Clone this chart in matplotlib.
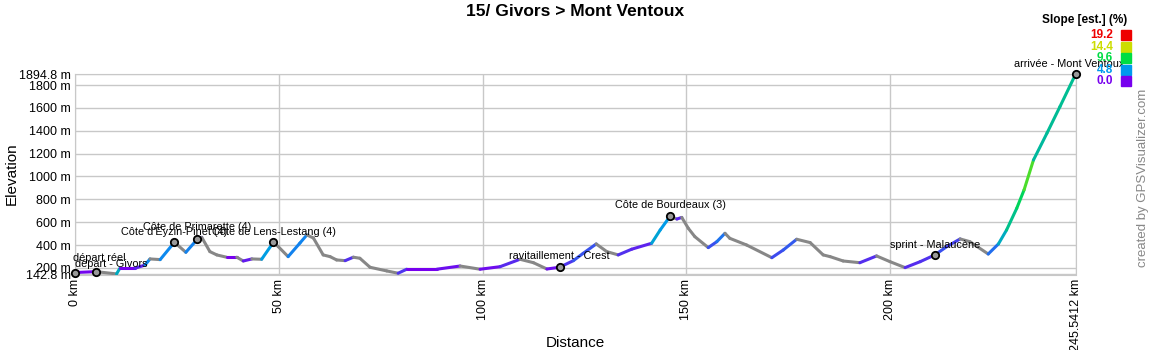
import numpy as np
import matplotlib
matplotlib.use('Agg')
import matplotlib.pyplot as plt
from matplotlib.collections import LineCollection
from matplotlib.colors import LinearSegmentedColormap

plt.rcParams['font.family'] = ['Liberation Sans', 'DejaVu Sans']

# profile: distance (km), elevation (m)
dist = [0, 5.1, 10.2, 11.0, 14.7, 17.2, 18.4, 20.9, 24.4, 27.2, 30.0, 31.1, 33.1, 34.8,
        37.2, 39.7, 41.3, 43.4, 45.8, 48.7, 49.9, 52.3, 55.2, 56.9, 58.5, 60.9, 62.6,
        64.2, 66.3, 68.3, 69.9, 72.4, 76.5, 79.3, 81.4, 84.7, 88.8, 94.5, 99.4, 104.3,
        109.2, 112.5, 115.8, 118.9, 122.3, 124.7, 127.9, 130.5, 133.3, 136.6, 141.5,
        143.6, 146.0, 147.7, 148.9, 150.5, 152.1, 155.4, 157.5, 159.5, 160.7, 164.8,
        171.0, 173.8, 177.1, 180.4, 183.6, 185.3, 188.5, 192.6, 196.7, 200.0, 203.7,
        207.4, 211.0, 213.9, 217.2, 219.6, 224.1, 226.6, 228.6, 231.1, 232.9, 235.2,
        238.5, 241.7, 245.5412]
elev = [160, 168, 148, 197, 197, 226, 279, 273, 425, 337, 451, 468, 343, 314,
        294, 294, 261, 279, 276, 425, 386, 299, 418, 489, 462, 314, 299,
        270, 264, 294, 285, 206, 174, 154, 189, 189, 189, 217, 189, 211,
        276, 246, 191, 206, 264, 328, 410, 343, 314, 364, 416,
        532, 651, 628, 642, 547, 474, 378, 430, 503, 459, 401,
        290, 357, 451, 422, 314, 299, 261, 246, 305, 255, 203,
        255, 314, 386, 454, 430, 322, 410, 532, 722, 883, 1144,
        1378, 1611, 1894.8]

# waypoints
wp_names = ["départ - Givors", "départ réel", "Côte d'Eyzin-Pinet (4)", "Côte de Primarette (4)",
            "Côte de Lens-Lestang (4)", "ravitaillement - Crest", "Côte de Bourdeaux (3)",
            "sprint - Malaucène", "arrivée - Mont Ventoux"]
wp_km = [0, 5.1, 24.4, 30.0, 48.7, 118.9, 146.0, 211.0, 245.5412]
wp_elev = [160, 168, 425, 451, 425, 206, 651, 314, 1894.8]
wp_shift = [36, 4, 0, 0, 0, 0, 0, 0, -6]
wp_dy = [9, 14, 10, 12, 10, 11, 11, 10, 10]

slope_vals = [19.2, 14.4, 9.6, 4.8, 0.0]
slope_cols = ['#ee0000', '#ccdd00', '#00dd44', '#0099ee', '#7700ee']

x_ticks = [0, 50, 100, 150, 200, 245.5412]
x_labels = ['0 km', '50 km', '100 km', '150 km', '200 km', '245.5412 km']
y_ticks = [142.8, 200, 400, 600, 800, 1000, 1200, 1400, 1600, 1800, 1894.8]
y_labels = ['142.8 m', '200 m', '400 m', '600 m', '800 m', '1000 m', '1200 m',
            '1400 m', '1600 m', '1800 m', '1894.8 m']

fig = plt.figure(figsize=(11.5, 3.5), dpi=100)
ax = fig.add_axes([75/1150, 1-274.5/350, 1000.6/1150, 200.3/350])

cmap = LinearSegmentedColormap.from_list('slope', list(zip(
    [v/19.2 for v in slope_vals[::-1]], slope_cols[::-1])))

d = np.array(dist)
e = np.array(elev)
pts = np.column_stack([d, e]).reshape(-1, 1, 2)
segs = np.concatenate([pts[:-1], pts[1:]], axis=1)
slope = np.diff(e) / (np.diff(d) * 1000) * 100
cols = [cmap(min(s, 19.2)/19.2) if s >= 0 else (0.53, 0.53, 0.53, 1) for s in slope]
lc = LineCollection(segs, colors=cols, linewidths=2.2, capstyle='round', zorder=3)
ax.add_collection(lc)

ax.scatter(wp_km, wp_elev, s=28, facecolor='#999999', edgecolor='black', linewidths=1.3,
           zorder=4, clip_on=False)
for name, k, el, sh, dy in zip(wp_names, wp_km, wp_elev, wp_shift, wp_dy):
    ax.annotate(name, (k, el), xytext=(sh, dy), textcoords='offset pixels',
                ha='center', va='center', fontsize=7.8, zorder=5)

ax.set_xlim(0, 245.5412)
ax.set_ylim(142.8, 1894.8)
ax.set_xticks(x_ticks)
ax.set_xticklabels(x_labels, rotation=90, fontsize=9)
ax.set_yticks(y_ticks)
ax.set_yticklabels(y_labels, fontsize=9)
ax.tick_params(length=0, pad=3)
ax.grid(True, color='#c8c8c8', linewidth=1)
ax.set_axisbelow(True)
for sp in ax.spines.values():
    sp.set_color('#c8c8c8')

fig.text(575/1150, 1-343/350, 'Distance', ha='center', va='center', fontsize=11)
fig.text(12/1150, 1-174/350, 'Elevation', ha='center', va='center', fontsize=11,
         rotation=90)

fig.text(0.5, 1-12/350, '15/ Givors > Mont Ventoux', ha='center', va='center',
         fontsize=12.5, fontweight='bold')
fig.text(1127/1150, 1-20/350, 'Slope [est.] (%)', ha='right', va='center',
         fontsize=8.5, fontweight='bold')
for i, (v, c) in enumerate(zip(slope_vals, slope_cols)):
    yy = 1 - (35 + i * 11.6) / 350
    fig.text(1113/1150, yy, '%.1f' % v, color=c, ha='right', va='center',
             fontsize=8.5, fontweight='bold')
    fig.patches.append(plt.Rectangle((1121/1150, yy - 5/350), 10/1150, 10/350,
                                     color=c, transform=fig.transFigure, figure=fig))
fig.text(1143/1150, 1-178/350, 'created by GPSVisualizer.com', rotation=90,
         ha='center', va='center', fontsize=9.5, color='#888888')

fig.savefig('out.png', dpi=100)
